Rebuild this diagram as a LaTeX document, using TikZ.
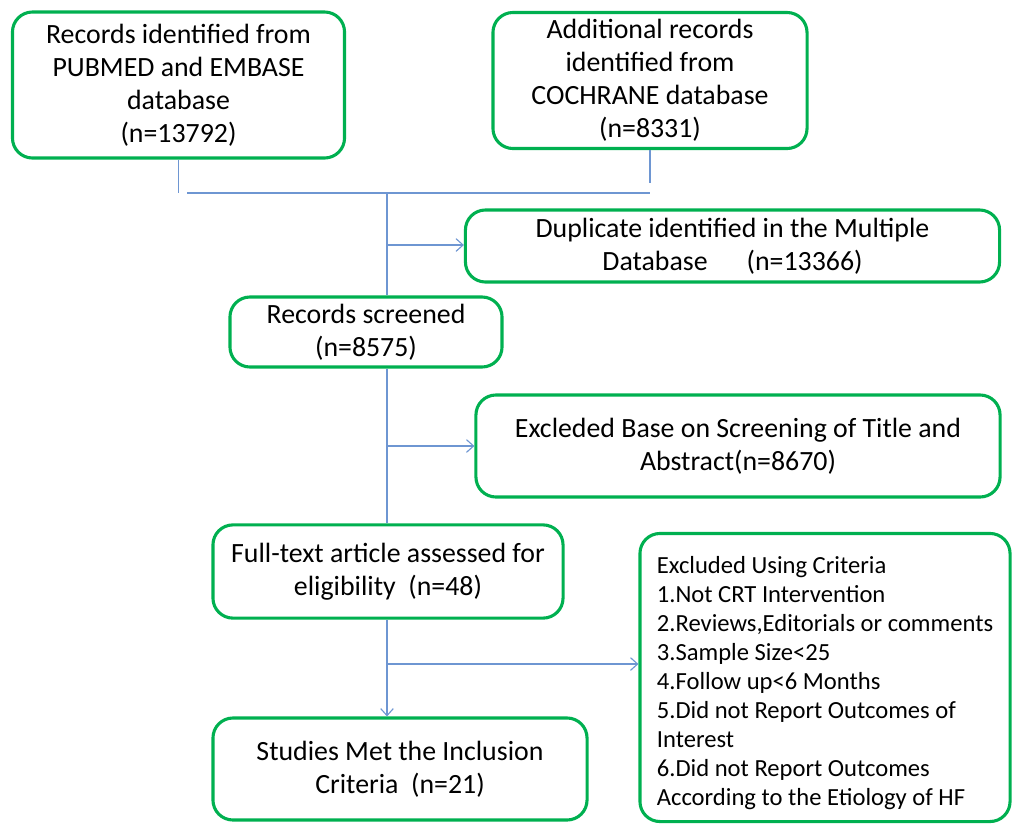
\documentclass[tikz,border=0pt]{standalone}
\usepackage{fontspec}
\setmainfont{Carlito}
\usetikzlibrary{arrows.meta}
\definecolor{boxgreen}{RGB}{0,176,80}
\definecolor{flowblue}{RGB}{110,150,210}

\begin{document}
\begin{tikzpicture}[x = 0.025cm, y = -0.025cm,
    every node/.style = { font = \fontsize{19.8}{23.4}\selectfont },
    box/.style = { draw = boxgreen, line width = 2.2pt, rounded corners = 0.5cm,
                   align = center, inner sep = 0pt },
    flow/.style = { draw = flowblue, line width = 0.8pt },
    arr/.style = { flow, -{Straight Barb[length=5pt, width=9pt]} }]
    \useasboundingbox (0,0) rectangle (1014,824);

    % boxes
    \node [box, minimum width = 8.3cm, minimum height = 3.65cm] (records) at (178.5,85)
        { Records identified from \\ PUBMED and EMBASE \\ database \\ (n=13792) };
    \node [box, minimum width = 7.85cm, minimum height = 3.4cm] (cochrane) at (650,80.5)
        { Additional records \\ identified from \\ COCHRANE database \\ (n=8331) };
    \node [box, minimum width = 13.35cm, minimum height = 1.8cm] (duplicate) at (732.5,246)
        { Duplicate identified in the Multiple \\ Database\hspace{1.4em}(n=13366) };
    \node [box, minimum width = 6.8cm, minimum height = 1.75cm] (screened) at (366,332)
        { Records screened \\ (n=8575) };
    \node [box, minimum width = 13.1cm, minimum height = 2.55cm] (title) at (738,446)
        { Excleded Base on Screening of Title and \\ Abstract(n=8670) };
    \node [box, minimum width = 8.75cm, minimum height = 2.33cm] (fulltext) at (388,571.5)
        { Full-text article assessed for \\ eligibility\ \ (n=48) };
    \node [box, minimum width = 9.25cm, minimum height = 7.2cm, align = left,
           font = \fontsize{17.5}{20.6}\selectfont] (criteria) at (825,677.5)
        { \rule{0pt}{20pt}Excluded Using Criteria \\ 1.Not CRT Intervention \\ 2.Reviews,Editorials or comments \\
          3.Sample Size<25 \\ 4.Follow up<6 Months \\ 5.Did not Report Outcomes of \\
          Interest \\ 6.Did not Report Outcomes \\ According to the Etiology of HF };
    \node [box, minimum width = 9.35cm, minimum height = 2.55cm] (included) at (400,769)
        { Studies Met the Inclusion \\ Criteria\ \ (n=21) };

    % joints
    \coordinate (jleft) at (187,193);
    \coordinate (jright) at (650,193);
    \coordinate (jmid) at (387,193);
    \coordinate (jcochrane) at (650,183);
    \coordinate (jdup) at (387,245);
    \coordinate (jtitle) at (387,446);
    \coordinate (jcrit) at (387,664);

    % connectors
    \draw [flow] (records.south) -- (records.south |- jleft);
    \draw [flow] (cochrane.south -| jcochrane) -- (jcochrane);
    \draw [flow] (jleft) -- (jright);
    \draw [flow] (jmid) -- (jmid |- screened.north);
    \draw [arr] (jdup) -- (jdup -| duplicate.west);
    \draw [flow] (jmid |- screened.south) -- (jmid |- fulltext.north);
    \draw [arr] (jtitle) -- (jtitle -| title.west);
    \draw [arr] (jmid |- fulltext.south) -- (jmid |- included.north);
    \draw [arr] (jcrit) -- (jcrit -| criteria.west);
\end{tikzpicture}
\end{document}
